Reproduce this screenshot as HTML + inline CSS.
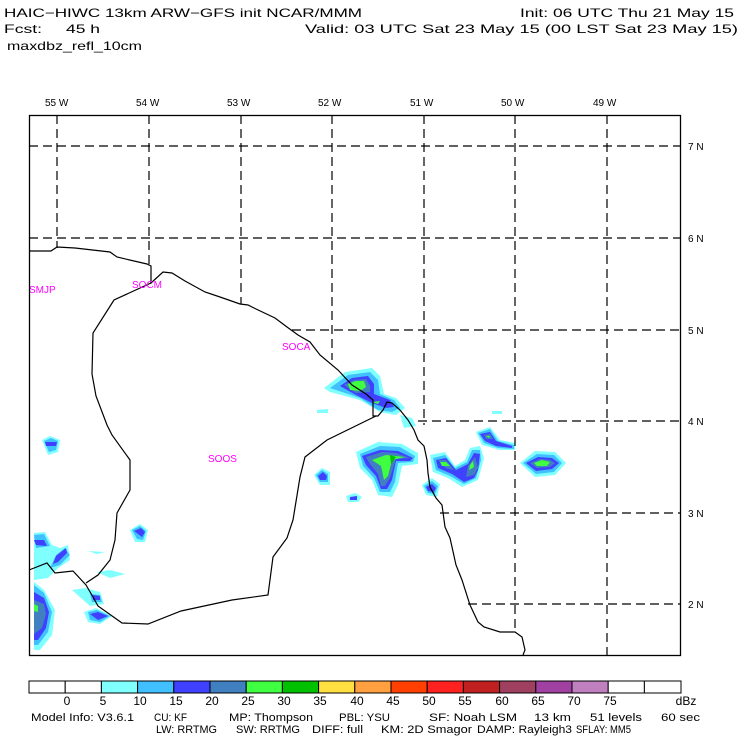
<!DOCTYPE html>
<html><head><meta charset="utf-8"><style>
html,body{margin:0;padding:0;background:#fff;}
svg{display:block;font-family:"Liberation Sans",sans-serif;}
</style></head><body>
<svg width="740" height="740" viewBox="0 0 740 740" xmlns="http://www.w3.org/2000/svg">
<rect width="740" height="740" fill="#fff"/>
<g font-size="12" fill="#000">
<text x="4" y="17" textLength="358" lengthAdjust="spacingAndGlyphs">HAIC−HIWC 13km ARW−GFS init   NCAR/MMM</text>
<text x="520" y="17" textLength="214" lengthAdjust="spacingAndGlyphs">Init: 06 UTC Thu 21 May 15</text>
<text x="4" y="33" textLength="38" lengthAdjust="spacingAndGlyphs">Fcst:</text>
<text x="66" y="33" textLength="34" lengthAdjust="spacingAndGlyphs">45 h</text>
<text x="305" y="33" textLength="433" lengthAdjust="spacingAndGlyphs">Valid: 03 UTC Sat 23 May 15 (00 LST Sat 23 May 15)</text>
<text x="7" y="50" textLength="135" lengthAdjust="spacingAndGlyphs">maxdbz_refl_10cm</text>
</g>
<g font-size="10" fill="#000">
<text x="45" y="106">55 W</text><text x="136" y="106">54 W</text><text x="227" y="106">53 W</text><text x="318" y="106">52 W</text><text x="410" y="106">51 W</text><text x="501" y="106">50 W</text><text x="593" y="106">49 W</text>
<text x="688" y="150">7 N</text><text x="688" y="242">6 N</text><text x="688" y="334">5 N</text><text x="688" y="425">4 N</text><text x="688" y="517">3 N</text><text x="688" y="608">2 N</text>
</g>
<g stroke="none">
<g fill="#80ffff">
<polygon points="324,388 345,372 372,368 380,376 384,394 396,398 405,408 396,415 380,412 360,400 330,392"/>
<polygon points="400,415 412,418 416,426 404,428"/>
<polygon points="317,410 328,409 328,413 317,413"/>
<polygon points="356,452 378,442 402,444 418,453 418,464 402,466 398,485 392,497 378,495 372,480 360,468"/>
<polygon points="430,455 445,452 455,466 465,460 470,448 480,446 484,458 478,480 462,487 448,478 433,472"/>
<polygon points="476,432 490,427 500,440 515,443 515,450 500,450 482,445"/>
<polygon points="520,463 535,451 555,452 566,463 555,475 535,477"/>
<polygon points="422,485 432,478 440,484 437,497 426,495"/>
<polygon points="314,475 322,468 330,472 330,485 320,485"/>
<polygon points="346,496 355,493 362,497 358,502 348,502"/>
<polygon points="492,411 502,411 502,414 492,414"/>
<polygon points="42,440 50,436 60,440 58,452 48,455"/>
<polygon points="130,530 140,524 148,530 145,542 135,542"/>
<polygon points="34,533 45,532 52,545 60,548 68,545 70,560 58,568 48,578 34,580"/>
<polygon points="34,582 44,590 55,610 52,635 40,650 34,650"/>
<polygon points="72,590 85,588 100,592 104,604 90,606"/>
<polygon points="84,612 96,608 112,616 100,624 88,622"/>
<polygon points="97,572 110,570 125,574 110,578"/>
<polygon points="88,551 105,552 97,554"/>
</g>
<g fill="#41c0ff">
<polygon points="330,388 348,375 370,372 378,380 380,394 394,400 400,408 392,412 378,410 360,398"/>
<polygon points="360,454 380,446 400,447 415,456 413,462 398,463 395,482 390,492 380,492 374,478 363,466"/>
<polygon points="433,458 445,455 455,468 467,462 472,450 480,450 481,460 476,478 464,484 450,476 436,470"/>
<polygon points="478,433 490,429 498,441 514,445 514,449 498,448 484,443"/>
<polygon points="523,463 537,454 554,455 562,463 554,472 536,474"/>
<polygon points="424,486 432,481 438,486 435,494 428,493"/>
<polygon points="316,475 322,470 328,474 328,482 320,482"/>
<polygon points="44,441 51,438 58,441 56,450 49,452"/>
<polygon points="132,530 140,526 146,531 143,540 137,539"/>
<polygon points="34,535 44,534 50,546 36,548"/>
<polygon points="34,585 44,593 52,612 48,632 38,645 34,645"/>
<polygon points="56,555 65,548 70,555 60,565 50,568"/>
<polygon points="88,612 97,610 110,616 100,622 90,620"/>
<polygon points="90,594 100,595 102,602 92,602"/>
</g>
<g fill="#4040ff">
<polygon points="340,386 352,378 368,376 374,384 374,394 390,400 394,407 386,408 372,403 356,395"/>
<polygon points="362,456 380,450 398,451 413,458 410,461 396,461 392,480 387,489 381,489 376,476 366,465"/>
<polygon points="436,460 446,458 456,470 468,464 474,453 480,454 478,470 474,478 464,482 452,474 438,468"/>
<polygon points="480,434 490,432 496,441 512,446 512,448 496,446 485,441"/>
<polygon points="526,463 538,457 552,458 559,463 552,469 536,471"/>
<polygon points="426,487 432,484 436,488 434,492 428,491"/>
<polygon points="318,476 323,472 327,476 326,480 320,480"/>
<polygon points="350,497 357,496 357,500 350,500"/>
<polygon points="45,442 57,442 56,446 46,446"/>
<polygon points="134,531 141,528 145,532 142,537"/>
<polygon points="34,540 44,540 47,546 36,545"/>
<polygon points="34,592 44,598 49,612 46,628 38,640 34,640"/>
<polygon points="56,556 66,548 67,553 58,562 53,564"/>
<polygon points="90,614 98,612 108,616 98,620"/>
<polygon points="93,595 100,596 100,600 93,600"/>
</g>
<g fill="#4080c0">
<polygon points="344,385 354,380 366,379 370,386 370,392 356,393"/>
<polygon points="366,457 382,452 396,453 410,458 396,459 390,478 385,486 381,486 378,474 370,464"/>
<polygon points="438,460 446,460 454,470 446,468"/>
<polygon points="468,466 475,457 478,468 474,475 466,477"/>
<polygon points="484,435 490,434 493,439 486,439"/>
<polygon points="530,463 540,459 550,460 555,463 550,467 537,468"/>
<polygon points="34,600 44,604 46,614 42,628 34,634"/>
</g>
<g fill="#40ff40">
<polygon points="348,384 356,381 364,381 366,387 360,391 350,390"/>
<polygon points="372,460 386,455 405,457 392,460 388,476 384,480 381,466"/>
<polygon points="440,462 446,462 450,466 442,466"/>
<polygon points="470,465 473,461 474,467 469,470"/>
<polygon points="486,436 490,436 489,438"/>
<polygon points="534,463 542,460 550,462 547,466 537,466"/>
<polygon points="34,604 38,606 38,612 34,611"/>
<polygon points="372,402 380,401 378,404"/>
</g>
<g fill="#00c000">
<polygon points="390,455 396,457 391,464"/>
</g>
</g>
<g stroke="#000" stroke-width="1.2" stroke-dasharray="9,5" fill="none">
<line x1="29" y1="146" x2="681" y2="146"/>
<line x1="29" y1="238" x2="681" y2="238"/>
<line x1="292" y1="330" x2="681" y2="330"/>
<line x1="418" y1="421" x2="681" y2="421"/>
<line x1="440" y1="513" x2="681" y2="513"/>
<line x1="468" y1="604" x2="681" y2="604"/>
<line x1="57" y1="115" x2="57" y2="248"/>
<line x1="149" y1="115" x2="149" y2="265"/>
<line x1="241" y1="115" x2="241" y2="304"/>
<line x1="332" y1="115" x2="332" y2="360"/>
<line x1="424" y1="115" x2="424" y2="425"/>
<line x1="515" y1="115" x2="515" y2="632"/>
<line x1="607" y1="115" x2="607" y2="655"/>
</g>
<g stroke="#000" stroke-width="1.2" fill="none">
<polyline points="29,251 51,251 57,247 75,248 110,252 117,257 147,264 151,266 151,283 163,272 172,273 185,281 205,292 220,297 240,304 248,305 256,309 275,318 287,327 298,335 310,342 320,355 338,370 352,385 366,394 373,400 373,416 378,416 383,410 387,402 392,403 400,410 408,420 414,430 418,440 424,446 427,460 428,473 430,487 436,498 442,505 445,527 450,538 456,565 462,580 470,605 478,622 484,627 500,632 515,632 522,637 525,650 523,655"/>
<polyline points="151,283 114,300 93,333 92,374 96,396 107,425 112,435 130,460 130,490 117,513 115,540 110,560 98,575 86,583"/>
<polyline points="376,416 327,440 305,457 300,477 293,520 287,538 273,557 268,595 232,600 181,611 148,624 122,623 98,606 93,597 86,585 73,571 55,573 47,563 29,570"/>
</g>
<g font-size="10" fill="#ff00ff">
<text x="29" y="293">SMJP</text>
<text x="132" y="288">SOCM</text>
<text x="282" y="350">SOCA</text>
<text x="208" y="462">SOOS</text>
</g>
<rect x="29.5" y="115.5" width="651" height="540" fill="none" stroke="#000" stroke-width="1.3"/>
<g stroke="#000" stroke-width="1">
<rect x="29" y="681" width="36.2" height="12" fill="#fff"/>
<rect x="65.2" y="681" width="36.2" height="12" fill="#fff"/>
<rect x="101.4" y="681" width="36.2" height="12" fill="#80ffff"/>
<rect x="137.6" y="681" width="36.2" height="12" fill="#41c0ff"/>
<rect x="173.8" y="681" width="36.2" height="12" fill="#4040ff"/>
<rect x="210" y="681" width="36.2" height="12" fill="#4080c0"/>
<rect x="246.2" y="681" width="36.2" height="12" fill="#40ff40"/>
<rect x="282.4" y="681" width="36.2" height="12" fill="#00c000"/>
<rect x="318.6" y="681" width="36.2" height="12" fill="#ffe040"/>
<rect x="354.8" y="681" width="36.2" height="12" fill="#ffa040"/>
<rect x="391" y="681" width="36.2" height="12" fill="#ff4000"/>
<rect x="427.2" y="681" width="36.2" height="12" fill="#ff2020"/>
<rect x="463.4" y="681" width="36.2" height="12" fill="#c02020"/>
<rect x="499.6" y="681" width="36.2" height="12" fill="#a04060"/>
<rect x="535.8" y="681" width="36.2" height="12" fill="#a040a0"/>
<rect x="572" y="681" width="36.2" height="12" fill="#c080c0"/>
<rect x="608.2" y="681" width="36.2" height="12" fill="#fff"/>
<rect x="644.4" y="681" width="36.6" height="12" fill="#fff"/>
</g>
<g font-size="12" fill="#000" text-anchor="middle">
<text x="67" y="705">0</text><text x="103" y="705">5</text><text x="140" y="705">10</text><text x="176" y="705">15</text><text x="212" y="705">20</text><text x="248" y="705">25</text><text x="284" y="705">30</text><text x="320" y="705">35</text><text x="357" y="705">40</text><text x="393" y="705">45</text><text x="429" y="705">50</text><text x="465" y="705">55</text><text x="502" y="705">60</text><text x="538" y="705">65</text><text x="574" y="705">70</text><text x="610" y="705">75</text><text x="686" y="705">dBz</text>
</g>
<g font-size="11" fill="#000">
<text x="31" y="721" textLength="103" lengthAdjust="spacingAndGlyphs">Model Info: V3.6.1</text>
<text x="154" y="721" textLength="33" lengthAdjust="spacingAndGlyphs">CU: KF</text>
<text x="229" y="721" textLength="84" lengthAdjust="spacingAndGlyphs">MP: Thompson</text>
<text x="339" y="721" textLength="51" lengthAdjust="spacingAndGlyphs">PBL: YSU</text>
<text x="429" y="721" textLength="88" lengthAdjust="spacingAndGlyphs">SF: Noah LSM</text>
<text x="534" y="721" textLength="37" lengthAdjust="spacingAndGlyphs">13 km</text>
<text x="590" y="721" textLength="52" lengthAdjust="spacingAndGlyphs">51 levels</text>
<text x="661" y="721" textLength="39" lengthAdjust="spacingAndGlyphs">60 sec</text>
<text x="156" y="733" textLength="61" lengthAdjust="spacingAndGlyphs">LW: RRTMG</text>
<text x="236" y="733" textLength="64" lengthAdjust="spacingAndGlyphs">SW: RRTMG</text>
<text x="312" y="733" textLength="51" lengthAdjust="spacingAndGlyphs">DIFF: full</text>
<text x="381" y="733" textLength="91" lengthAdjust="spacingAndGlyphs">KM: 2D Smagor</text>
<text x="477" y="733" textLength="95" lengthAdjust="spacingAndGlyphs">DAMP: Rayleigh3</text>
<text x="576" y="733" textLength="55" lengthAdjust="spacingAndGlyphs">SFLAY: MM5</text>
</g>
</svg>
</body></html>
